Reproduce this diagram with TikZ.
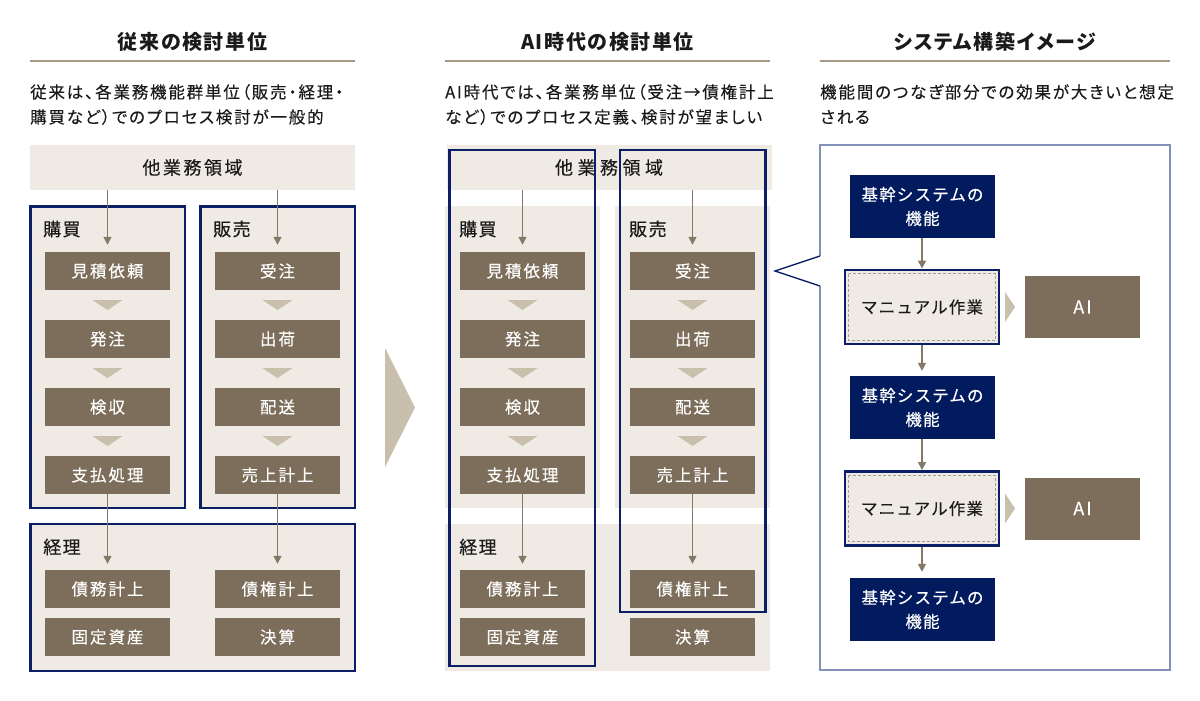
\documentclass[tikz,border=0pt]{standalone}
\usepackage{fontspec}
\usetikzlibrary{arrows.meta,calc}
\setmainfont{Noto Sans CJK JP}
\newfontfamily\ftitle[LetterSpace=8,RawFeature=+palt]{Noto Sans CJK JP}
\newfontfamily\fdesc[LetterSpace=11,RawFeature=+palt,FakeBold=0.2]{Noto Sans CJK JP}
\newfontfamily\fbar[LetterSpace=14,FakeBold=0.2]{Noto Sans CJK JP}
\newfontfamily\fbarwide[LetterSpace=25,FakeBold=0.2]{Noto Sans CJK JP}
\newfontfamily\flabel[LetterSpace=8,FakeBold=0.35]{Noto Sans CJK JP}
\newfontfamily\fproc[LetterSpace=12,FakeBold=0.25]{Noto Sans CJK JP}
\newfontfamily\fsys[LetterSpace=7,FakeBold=0.2]{Noto Sans CJK JP}
\newfontfamily\fai[LetterSpace=12,FakeBold=0.2]{Noto Sans CJK JP}
\definecolor{beige}{HTML}{EFEBE4}
\definecolor{brownc}{HTML}{7D6E5B}
\definecolor{tric}{HTML}{C9BFAD}
\definecolor{navy}{HTML}{0B1F66}
\definecolor{navyfill}{HTML}{021A5E}
\definecolor{ulc}{HTML}{A69987}
\definecolor{slate}{HTML}{8391B8}
\definecolor{connc}{HTML}{857866}
\definecolor{dashc}{HTML}{A59D94}
\definecolor{txt}{HTML}{1A1A1A}
\tikzset{
  titletext/.style={text=txt,inner sep=0pt,font=\ftitle\bfseries\fontsize{20}{24}\selectfont},
  desctext/.style={text=txt,inner sep=0pt,anchor=west,font=\fdesc\fontsize{16.5}{25}\selectfont},
  uline/.style={draw=ulc,line width=2.5pt},
  barbox/.style={fill=beige,minimum width=325pt,minimum height=45pt,inner sep=0pt,text=txt,font=\fbar\fontsize{18}{22}\selectfont},
  frame/.style={draw=navy,line width=2.8pt},
  bgfill/.style={fill=beige},
  grouplabel/.style={text=txt,inner sep=0pt,anchor=west,font=\flabel\fontsize{18}{22}\selectfont},
  proc/.style={fill=brownc,text=white,minimum width=125pt,minimum height=38pt,inner sep=0pt,font=\fproc\fontsize{16.5}{20}\selectfont},
  tri/.style={fill=tric},
  conn/.style={draw=connc,line width=1.5pt,-{Triangle[width=8pt,length=8pt]}},
  sysbox/.style={fill=navyfill,text=white,minimum width=145pt,minimum height=63pt,inner sep=0pt,align=center,font=\fsys\fontsize{16.5}{24}\selectfont},
  manbox/.style={fill=beige,draw=navy,line width=2.8pt,minimum width=154pt,minimum height=74pt,inner sep=0pt,text=txt,font=\fsys\fontsize{16.5}{20}\selectfont},
  aibox/.style={fill=brownc,text=white,minimum width=115pt,minimum height=62pt,inner sep=0pt,font=\fai\fontsize{18}{22}\selectfont},
  dashin/.style={draw=dashc,line width=1pt,dash pattern=on 3pt off 2pt},
  callout/.style={draw=slate,line width=1.4pt},
  pointer/.style={draw=navy,line width=1.4pt,line join=miter}
}
\begin{document}
\begin{tikzpicture}[x=1pt,y=-1pt]
\useasboundingbox[fill=white] (0,0) rectangle (1200,701);

% ===== Panel 1 =====
\node[titletext] (t1) at (192.5,42) {従来の検討単位};
\draw[uline] (30,61) -- (355,61);
\node[desctext] (d1a) at (30,92) {従来は、各業務機能群単位（販売・経理・};
\node[desctext] (d1b) at (30,117) {購買など）でのプロセス検討が一般的};
\node[barbox] (bar1) at (192.5,167.5) {他業務領域};

\draw[frame,bgfill] (30.5,206.5) rectangle (185,508);
\draw[frame,bgfill] (200.5,206.5) rectangle (355,508);
\draw[frame,bgfill] (30.5,524) rectangle (355,671);
\node[grouplabel] (g1a) at (43,229) {購買};
\node[grouplabel] (g1b) at (213,229) {販売};
\node[grouplabel] (g1c) at (43,547) {経理};

\node[proc] (a1) at (107.5,271) {見積依頼};
\node[proc] (a2) at (107.5,339) {発注};
\node[proc] (a3) at (107.5,407) {検収};
\node[proc] (a4) at (107.5,475) {支払処理};
\node[proc] (b1) at (277.5,271) {受注};
\node[proc] (b2) at (277.5,339) {出荷};
\node[proc] (b3) at (277.5,407) {配送};
\node[proc] (b4) at (277.5,475) {売上計上};
\node[proc] (c1) at (107.5,589) {債務計上};
\node[proc] (c2) at (107.5,637) {固定資産};
\node[proc] (c3) at (277.5,589) {債権計上};
\node[proc] (c4) at (277.5,637) {決算};
\foreach \cx in {107.5,277.5}{
  \foreach \ty in {300,368,436}{
    \fill[tri] (\cx-15,\ty) -- (\cx+15,\ty) -- (\cx,\ty+10) -- cycle;
  }
}
\draw[conn,shorten >=7pt] (bar1.south -| a1) -- (a1.north);
\draw[conn,shorten >=7pt] (bar1.south -| b1) -- (b1.north);
\draw[conn,shorten >=6pt] (a4.south) -- (c1.north);
\draw[conn,shorten >=6pt] (b4.south) -- (c3.north);

% big arrow
\fill[tri] (385,348) -- (415,407.5) -- (385,467) -- cycle;

% ===== Panel 2 =====
\node[titletext] (t2) at (607.5,42) {AI時代の検討単位};
\draw[uline] (445,61) -- (770,61);
\node[desctext] (d2a) at (445,92) {AI時代では、各業務単位（受注→債権計上};
\node[desctext] (d2b) at (445,117) {など）でのプロセス定義、検討が望ましい};
\node[barbox,font=\fbarwide\fontsize{18}{22}\selectfont] (bar2) at (609,167.5) {他業務領域};
\fill[bgfill] (445,206) rectangle (600,508);
\fill[bgfill] (615,206) rectangle (770,508);
\fill[bgfill] (445,524) rectangle (770,671);
\node[grouplabel] (g2a) at (459,229) {購買};
\node[grouplabel] (g2b) at (629,229) {販売};
\node[grouplabel] (g2c) at (459,547) {経理};

\node[proc] (e1) at (522.5,271) {見積依頼};
\node[proc] (e2) at (522.5,339) {発注};
\node[proc] (e3) at (522.5,407) {検収};
\node[proc] (e4) at (522.5,475) {支払処理};
\node[proc] (f1) at (692.5,271) {受注};
\node[proc] (f2) at (692.5,339) {出荷};
\node[proc] (f3) at (692.5,407) {配送};
\node[proc] (f4) at (692.5,475) {売上計上};
\node[proc] (h1) at (522.5,589) {債務計上};
\node[proc] (h2) at (522.5,637) {固定資産};
\node[proc] (h3) at (692.5,589) {債権計上};
\node[proc] (h4) at (692.5,637) {決算};
\foreach \cx in {522.5,692.5}{
  \foreach \ty in {300,368,436}{
    \fill[tri] (\cx-15,\ty) -- (\cx+15,\ty) -- (\cx,\ty+10) -- cycle;
  }
}
\draw[conn,shorten >=7pt] (bar2.south -| e1) -- (e1.north);
\draw[conn,shorten >=7pt] (bar2.south -| f1) -- (f1.north);
\draw[conn,shorten >=6pt] (e4.south) -- (h1.north);
\draw[conn,shorten >=6pt] (f4.south) -- (h3.north);
\draw[frame] (449.5,150) rectangle (595,666);
\draw[frame] (620,150) rectangle (765.5,612);

% ===== Panel 3 =====
\node[titletext] (t3) at (995,42) {システム構築イメージ};
\draw[uline] (820,61) -- (1170,61);
\node[desctext] (d3a) at (820,92) {機能間のつなぎ部分での効果が大きいと想定};
\node[desctext] (d3b) at (820,117) {される};

\draw[callout] (820,256) -- (820,145) -- (1170,145) -- (1170,670) -- (820,670) -- (820,286);
\draw[pointer] (820,256) -- (775,271) -- (820,286);

\node[sysbox] (s1) at (922.5,206.5) {基幹システムの\\機能};
\node[manbox] (m1) at (922,307) {マニュアル作業};
\node[sysbox] (s2) at (922.5,407.5) {基幹システムの\\機能};
\node[manbox] (m2) at (922,508.5) {マニュアル作業};
\node[sysbox] (s3) at (922.5,609.5) {基幹システムの\\機能};
\draw[dashin] ([shift={(5,5)}]m1.north west) rectangle ([shift={(-5,-5)}]m1.south east);
\draw[dashin] ([shift={(5,5)}]m2.north west) rectangle ([shift={(-5,-5)}]m2.south east);
\node[aibox] (ai1) at (1082.5,307) {AI};
\node[aibox] (ai2) at (1082.5,508.5) {AI};
\fill[tri] (1005,292) -- (1015,307) -- (1005,322) -- cycle;
\fill[tri] (1005,493.5) -- (1015,508.5) -- (1005,523.5) -- cycle;

\draw[conn] (s1.south -| m1) -- (m1.north);
\draw[conn,shorten >=5pt] (m1.south) -- (m1.south |- s2.north);
\draw[conn] (s2.south -| m2) -- (m2.north);
\draw[conn,shorten >=6pt] (m2.south) -- (m2.south |- s3.north);
\end{tikzpicture}
\end{document}
